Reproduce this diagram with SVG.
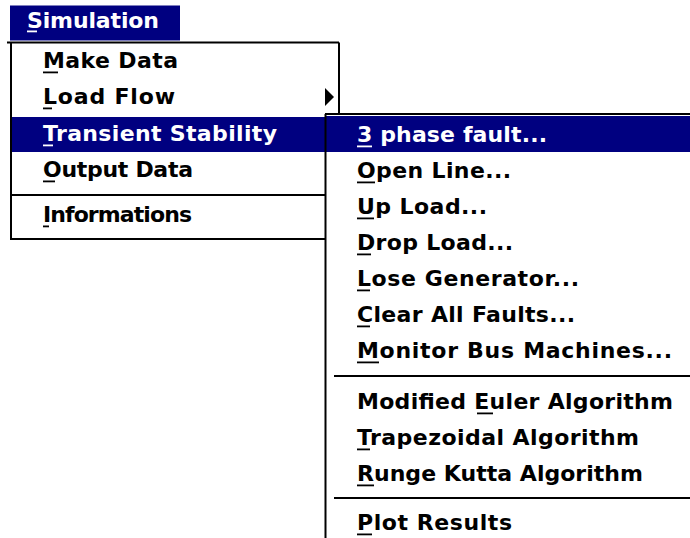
<svg xmlns="http://www.w3.org/2000/svg" width="690" height="538" viewBox="0 0 690 538">
<style>
  text { font-family: "DejaVu Sans", "Liberation Sans", sans-serif; font-weight: bold; font-size: 22px; fill: #000; }
  .hl text, text.w { fill: #fff; }
  .line { stroke: #000; stroke-width: 2; fill: none; }
  .ul { fill: #000; }
  .ulw { fill: #fff; }
  .sel { fill: #000080; }
</style>
<rect width="690" height="538" fill="#fff"/>

<g id="menubar">
  <rect class="sel" x="10" y="5.5" width="170" height="35"/>
  <text class="w" x="27" y="28" textLength="132" lengthAdjust="spacing">Simulation</text>
  <rect class="ulw" x="27" y="30.5" width="10" height="1.8"/>
</g>

<g id="main-menu">
  <path class="line" d="M7 42.5 H339 M11 42.5 V239 M10 239 H325 M339 42.5 V114 M11 195 H325"/>
  <rect class="sel" x="12" y="117" width="313" height="35"/>
  <polygon points="325,88 334,97 325,106" fill="#000"/>
  <g id="item-make-data">
    <text x="43" y="68" textLength="135" lengthAdjust="spacing">Make Data</text>
    <rect class="ul" x="43" y="71.5" width="15" height="1.8"/>
  </g>
  <g id="item-load-flow">
    <text x="43" y="104" textLength="132" lengthAdjust="spacing">Load Flow</text>
    <rect class="ul" x="43" y="107.5" width="9" height="1.8"/>
  </g>
  <g id="item-transient-stability">
    <text class="w" x="43" y="141" textLength="234" lengthAdjust="spacing">Transient Stability</text>
    <rect class="ulw" x="43" y="144.5" width="10" height="1.8"/>
  </g>
  <g id="item-output-data">
    <text x="43" y="177" textLength="150" lengthAdjust="spacing">Output Data</text>
    <rect class="ul" x="43" y="180.5" width="12" height="1.8"/>
  </g>
  <g id="item-informations">
    <text x="43" y="222" textLength="149" lengthAdjust="spacing">Informations</text>
    <rect class="ul" x="43" y="225.5" width="6" height="1.8"/>
  </g>
</g>

<g id="submenu">
  <rect x="325" y="114" width="365" height="424" fill="#fff"/>
  <rect class="sel" x="326" y="116" width="364" height="36"/>
  <path class="line" d="M325 114 H690 M325.5 114 V538 M334 376 H690 M334 498 H690"/>
  <g id="item-3-phase-fault">
    <text class="w" x="357" y="142" textLength="190" lengthAdjust="spacing">3 phase fault...</text>
    <rect class="ulw" x="357" y="145.5" width="15" height="1.8"/>
  </g>
  <g id="item-open-line">
    <text x="357" y="178" textLength="154" lengthAdjust="spacing">Open Line...</text>
    <rect class="ul" x="357" y="181.5" width="18" height="1.8"/>
  </g>
  <g id="item-up-load">
    <text x="357" y="214" textLength="130" lengthAdjust="spacing">Up Load...</text>
    <rect class="ul" x="357" y="217.5" width="17" height="1.8"/>
  </g>
  <g id="item-drop-load">
    <text x="357" y="250" textLength="156" lengthAdjust="spacing">Drop Load...</text>
    <rect class="ul" x="357" y="253.5" width="14" height="1.8"/>
  </g>
  <g id="item-lose-generator">
    <text x="357" y="286" textLength="222" lengthAdjust="spacing">Lose Generator...</text>
    <rect class="ul" x="357" y="289.5" width="13" height="1.8"/>
  </g>
  <g id="item-clear-all-faults">
    <text x="357" y="322" textLength="218" lengthAdjust="spacing">Clear All Faults...</text>
    <rect class="ul" x="357" y="325.5" width="13" height="1.8"/>
  </g>
  <g id="item-monitor-bus-machines">
    <text x="357" y="358" textLength="315" lengthAdjust="spacing">Monitor Bus Machines...</text>
    <rect class="ul" x="357" y="361.5" width="22" height="1.8"/>
  </g>
  <g id="item-modified-euler">
    <text x="357" y="409" textLength="316" lengthAdjust="spacing">Modified Euler Algorithm</text>
    <rect class="ul" x="477" y="412.5" width="16" height="1.8"/>
  </g>
  <g id="item-trapezoidal">
    <text x="357" y="445" textLength="282" lengthAdjust="spacing">Trapezoidal Algorithm</text>
    <rect class="ul" x="357" y="448.5" width="13" height="1.8"/>
  </g>
  <g id="item-runge-kutta">
    <text x="357" y="481" textLength="286" lengthAdjust="spacing">Runge Kutta Algorithm</text>
    <rect class="ul" x="357" y="484.5" width="17" height="1.8"/>
  </g>
  <g id="item-plot-results">
    <text x="357" y="530" textLength="155" lengthAdjust="spacing">Plot Results</text>
    <rect class="ul" x="357" y="533.5" width="15" height="1.8"/>
  </g>
</g>
</svg>
